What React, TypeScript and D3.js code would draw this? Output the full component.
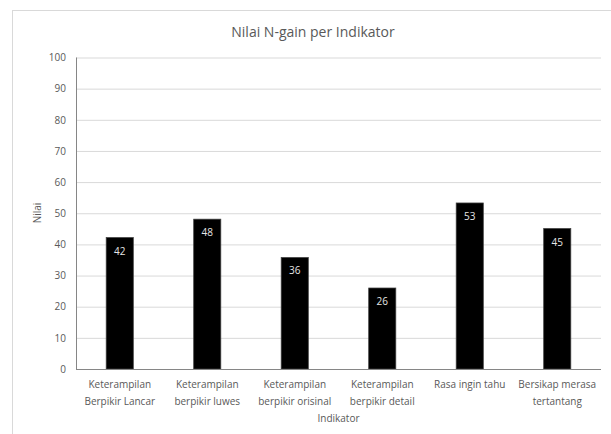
import * as d3 from "d3";
import React, { useEffect, useRef } from "react";

// categories (line breaks as in the chart)
const categories = [
  "Keterampilan\nBerpikir Lancar",
  "Keterampilan\nberpikir luwes",
  "Keterampilan\nberpikir orisinal",
  "Keterampilan\nberpikir detail",
  "Rasa ingin tahu",
  "Bersikap merasa\ntertantang",
];
const values = [42.2, 48.1, 35.8, 26.0, 53.3, 45.1];
const yTicks = [0, 10, 20, 30, 40, 50, 60, 70, 80, 90, 100];

const title = "Nilai N-gain per Indikator";
const xTitle = "Indikator";
const yTitle = "Nilai";

const App = () => {
  const ref = useRef<SVGSVGElement>(null);
  const width = 611;
  const height = 434;
  const margin = { left: 76, top: 57.5, right: 10, bottom: 65 };
  const font = "Open Sans, Noto Sans, sans-serif";
  const textColor = "#595959";

  useEffect(() => {
    const svg = d3.select(ref.current);
    svg.selectAll("*").remove();

    const chartWidth = width - margin.left - margin.right;
    const chartHeight = height - margin.top - margin.bottom;

    // frame
    svg
      .append("rect")
      .attr("x", 12.5)
      .attr("y", 10.5)
      .attr("width", width - 12)
      .attr("height", height - 10)
      .attr("fill", "white")
      .attr("stroke", "#d9d9d9");

    svg
      .append("text")
      .attr("x", 313)
      .attr("y", 37)
      .attr("text-anchor", "middle")
      .attr("font-family", font)
      .attr("font-size", 14)
      .attr("fill", textColor)
      .text(title);

    const x = d3
      .scaleBand<string>()
      .domain(categories)
      .range([0, chartWidth])
      .paddingInner(0.69)
      .paddingOuter(0.345);

    const y = d3.scaleLinear().domain([0, 100]).range([chartHeight, 0]);

    const g = svg
      .append("g")
      .attr("transform", `translate(${margin.left} ${margin.top})`);

    // grid
    const yAxis = d3
      .axisLeft(y)
      .tickValues(yTicks)
      .tickSize(-chartWidth)
      .tickPadding(10);
    const yAxisG = g.append("g").call(yAxis);
    yAxisG.select(".domain").remove();
    yAxisG.selectAll(".tick line").attr("stroke", "#d9d9d9");
    yAxisG
      .selectAll(".tick text")
      .attr("font-family", font)
      .attr("font-size", 10)
      .attr("fill", textColor);

    // y axis line
    g.append("line")
      .attr("x1", 0.5)
      .attr("x2", 0.5)
      .attr("y1", 0)
      .attr("y2", chartHeight)
      .attr("stroke", "#868686");

    // bars
    g.selectAll(".bar")
      .data(values)
      .enter()
      .append("rect")
      .attr("x", (d, i) => x(categories[i])!)
      .attr("y", (d) => y(d))
      .attr("width", x.bandwidth())
      .attr("height", (d) => chartHeight - y(d))
      .attr("fill", "black")
      .attr("stroke", "#404040")
      .attr("stroke-width", 0.75);

    g.selectAll(".label")
      .data(values)
      .enter()
      .append("text")
      .attr("x", (d, i) => x(categories[i])! + x.bandwidth() / 2)
      .attr("y", (d) => y(d) + 17)
      .attr("text-anchor", "middle")
      .attr("font-family", font)
      .attr("font-size", 10)
      .attr("fill", "#e6e6e6")
      .text((d) => Math.round(d));

    // x axis line
    g.append("line")
      .attr("x1", 0)
      .attr("x2", chartWidth)
      .attr("y1", chartHeight + 0.5)
      .attr("y2", chartHeight + 0.5)
      .attr("stroke", "#868686");

    // category labels
    categories.forEach((c) => {
      const t = g
        .append("text")
        .attr("x", x(c)! + x.bandwidth() / 2)
        .attr("y", chartHeight + 19)
        .attr("text-anchor", "middle")
        .attr("font-family", font)
        .attr("font-size", 10)
        .attr("fill", textColor);
      c.split("\n").forEach((line, j) => {
        t.append("tspan")
          .attr("x", x(c)! + x.bandwidth() / 2)
          .attr("dy", j === 0 ? 0 : 16.5)
          .text(line);
      });
    });

    g.append("text")
      .attr("x", chartWidth / 2)
      .attr("y", chartHeight + 53)
      .attr("text-anchor", "middle")
      .attr("font-family", font)
      .attr("font-size", 10)
      .attr("fill", textColor)
      .text(xTitle);

    g.append("text")
      .attr("transform", `rotate(-90)`)
      .attr("x", -(213 - margin.top))
      .attr("y", -35)
      .attr("text-anchor", "middle")
      .attr("font-family", font)
      .attr("font-size", 10)
      .attr("fill", textColor)
      .text(yTitle);
  }, []);

  return (
    <svg
      ref={ref}
      width={width}
      height={height}
      style={{ position: "absolute", left: 0, top: 0, background: "white" }}
    ></svg>
  );
};

export default App;
